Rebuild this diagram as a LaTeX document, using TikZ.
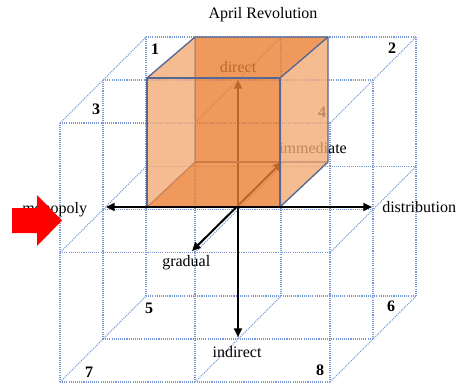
\documentclass[tikz,border=0pt]{standalone}
\usepackage{fontspec}
\setmainfont{Liberation Serif}
\usetikzlibrary{arrows.meta}
\definecolor{gridblue}{RGB}{120,152,214}
\definecolor{edgeblue}{RGB}{84,104,150}
\definecolor{orangemid}{RGB}{236,128,52}
\definecolor{orangelight}{RGB}{242,170,118}
\definecolor{arrowred}{RGB}{255,0,0}
\begin{document}
\begin{tikzpicture}[x=0.75pt,y=-0.75pt,
  font=\fontsize{12pt}{14pt}\selectfont,
  gridline/.style={gridblue, line width=0.8pt, dash pattern=on 0.8pt off 0.8pt},
  axisline/.style={black, line width=1.5pt, {Triangle[length=6.5pt,width=6pt]}-{Triangle[length=6.5pt,width=6pt]}},
  cubeedge/.style={edgeblue, line width=1pt, line join=round},
  cubeface/.style={fill opacity=0.8},
  lbl/.style={inner sep=0pt, anchor=base},
  lblw/.style={inner sep=0pt, anchor=base west},
  num/.style={inner sep=0pt, anchor=base, font=\fontsize{12pt}{14pt}\selectfont\bfseries}]
\useasboundingbox (0,0) rectangle (459,390);
% lattice of the 2x2x2 grid
\foreach \j in {0,1,2}{
  \foreach \k in {0,1,2}{
    \draw[gridline] ({60+43*\k},{382-129.5*\j-43*\k}) -- ({330+43*\k},{382-129.5*\j-43*\k});
  }
}
\foreach \i in {0,1,2}{
  \foreach \k in {0,1,2}{
    \draw[gridline] ({60+135*\i+43*\k},{382-43*\k}) -- ({60+135*\i+43*\k},{123-43*\k});
  }
}
\foreach \i in {0,1,2}{
  \foreach \j in {0,1,2}{
    \draw[gridline] ({60+135*\i},{382-129.5*\j}) -- ({146+135*\i},{296-129.5*\j});
  }
}
% axis end points
\coordinate (O) at (238,207);
\coordinate (tDirect) at (238,80);
\coordinate (tIndirect) at (238,337);
\coordinate (tImmediate) at (282,162);
\coordinate (tGradual) at (192,251);
\coordinate (tMonopoly) at (106,207);
\coordinate (tDistribution) at (372,207);
% labels
\node[lbl] (title) at (263,18) {April Revolution};
\node[lbl] (direct) at (238,72) {direct};
\node[lblw] (immediate) at (279,153) {immediate};
\node[lblw] (monopoly) at (22,213) {monopoly};
\node[lblw] (distribution) at (382,212) {distribution};
\node[lblw] (gradual) at (162,266) {gradual};
\node[lbl] (indirect) at (237,357) {indirect};
\node[num] (n1) at (155,54) {1};
\node[num] (n2) at (392,53) {2};
\node[num] (n3) at (96,114) {3};
\node[num] (n4) at (322,117) {4};
\node[num] (n5) at (149,313) {5};
\node[num] (n6) at (391,311) {6};
\node[num] (n7) at (89,377) {7};
\node[num] (n8) at (320,375) {8};
% axes lying partly behind the cube
\draw[axisline] (tIndirect) -- (tDirect);
\draw[axisline] (tGradual) -- (tImmediate);
% the orange cube
\coordinate (F1) at (147,78);
\coordinate (F2) at (280,78);
\coordinate (F3) at (280,207);
\coordinate (F4) at (147,207);
\coordinate (B1) at (195,37);
\coordinate (B2) at (328,37);
\coordinate (B3) at (328,162);
\coordinate (B4) at (195,162);
\draw[cubeedge] (B1) -- (B4) -- (B3);
\draw[cubeedge] (B4) -- (F4);
\fill[cubeface, orangelight] (F1) -- (B1) -- (B4) -- (F4) -- cycle;
\fill[cubeface, orangelight] (F2) -- (B2) -- (B3) -- (F3) -- cycle;
\fill[cubeface, orangemid] (B1) -- (B2) -- (F2) -- (F3) -- (F4) -- (B4) -- cycle;
\draw[cubeedge] (F1) -- (F2) -- (F3) -- (F4) -- cycle;
\draw[cubeedge] (F1) -- (B1) -- (B2) -- (F2);
\draw[cubeedge] (B2) -- (B3) -- (F3);
% horizontal axis in front
\draw[axisline] (tMonopoly) -- (tDistribution);
% red block arrow
\fill[arrowred] (12,208) -- (37,208) -- (37,195) -- (62,220.5) -- (37,246) -- (37,233) -- (12,233) -- cycle;
\end{tikzpicture}
\end{document}
